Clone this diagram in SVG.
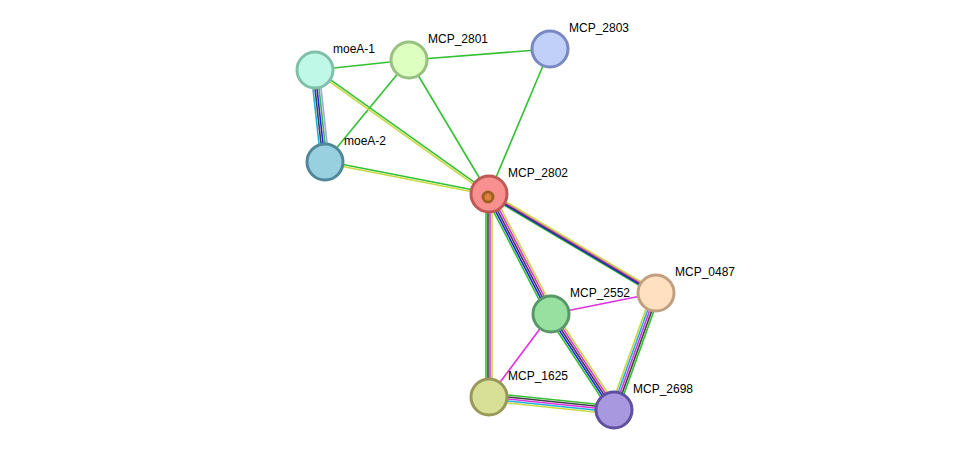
<svg xmlns="http://www.w3.org/2000/svg" width="976" height="456" viewBox="0 0 976 456">
<style>
line{stroke-width:1.6}
.g{stroke:#33c033}.y{stroke:#c8d840}.b{stroke:#2020f0}.k{stroke:#404040}.m{stroke:#e030e0}.c{stroke:#20b0e0}.l{stroke:#a0a0ff}
circle{stroke-width:3}
text{font-family:"Liberation Sans",Arial,sans-serif;font-size:12px;fill:#000}
</style>
<rect width="976" height="456" fill="#fff"/>
<g id="edges">
<line class="g" x1="315" y1="70" x2="409" y2="60"/>
<line class="g" x1="409" y1="60" x2="550" y2="49"/>
<line class="g" x1="409" y1="60" x2="325" y2="162"/>
<line class="g" x1="409" y1="60" x2="489" y2="194"/>
<line class="g" x1="550" y1="49" x2="489" y2="194"/>
<line class="m" x1="551" y1="314" x2="656" y2="293"/>
<line class="m" x1="551" y1="314" x2="489" y2="397"/>
<g transform="translate(-4,0.4)"><line class="c" x1="315" y1="70" x2="325" y2="162"/></g>
<g transform="translate(-2,0.2)"><line class="k" x1="315" y1="70" x2="325" y2="162"/></g>
<line class="b" x1="315" y1="70" x2="325" y2="162"/>
<g transform="translate(2,-0.2)"><line class="g" x1="315" y1="70" x2="325" y2="162"/></g>
<g transform="translate(4,-0.4)"><line class="l" x1="315" y1="70" x2="325" y2="162"/></g>
<g transform="translate(0.58,-0.81)"><line class="g" x1="315" y1="70" x2="489" y2="194"/></g>
<g transform="translate(-0.58,0.81)"><line class="y" x1="315" y1="70" x2="489" y2="194"/></g>
<g transform="translate(0.19,-0.98)"><line class="g" x1="325" y1="162" x2="489" y2="194"/></g>
<g transform="translate(-0.19,0.98)"><line class="y" x1="325" y1="162" x2="489" y2="194"/></g>
<g transform="translate(2.04,3.44)"><line class="g" x1="489" y1="194" x2="656" y2="293"/></g>
<g transform="translate(1.02,1.72)"><line class="b" x1="489" y1="194" x2="656" y2="293"/></g>
<line class="k" x1="489" y1="194" x2="656" y2="293"/>
<g transform="translate(-1.02,-1.72)"><line class="m" x1="489" y1="194" x2="656" y2="293"/></g>
<g transform="translate(-2.04,-3.44)"><line class="y" x1="489" y1="194" x2="656" y2="293"/></g>
<g transform="translate(-3.56,1.84)"><line class="g" x1="489" y1="194" x2="551" y2="314"/></g>
<g transform="translate(-1.78,0.92)"><line class="b" x1="489" y1="194" x2="551" y2="314"/></g>
<line class="k" x1="489" y1="194" x2="551" y2="314"/>
<g transform="translate(1.78,-0.92)"><line class="m" x1="489" y1="194" x2="551" y2="314"/></g>
<g transform="translate(3.56,-1.84)"><line class="y" x1="489" y1="194" x2="551" y2="314"/></g>
<line class="g" x1="486" y1="194" x2="486" y2="397"/>
<line class="k" x1="488" y1="194" x2="488" y2="397"/>
<line class="m" x1="490" y1="194" x2="490" y2="397"/>
<line class="y" x1="492" y1="194" x2="492" y2="397"/>
<g transform="translate(-3.34,2.2)"><line class="g" x1="551" y1="314" x2="614" y2="410"/></g>
<g transform="translate(-1.67,1.1)"><line class="b" x1="551" y1="314" x2="614" y2="410"/></g>
<line class="k" x1="551" y1="314" x2="614" y2="410"/>
<g transform="translate(1.67,-1.1)"><line class="m" x1="551" y1="314" x2="614" y2="410"/></g>
<g transform="translate(3.34,-2.2)"><line class="y" x1="551" y1="314" x2="614" y2="410"/></g>
<g transform="translate(-3.76,-1.36)"><line class="y" x1="656" y1="293" x2="614" y2="410"/></g>
<g transform="translate(-1.88,-0.68)"><line class="c" x1="656" y1="293" x2="614" y2="410"/></g>
<line class="m" x1="656" y1="293" x2="614" y2="410"/>
<g transform="translate(1.88,0.68)"><line class="k" x1="656" y1="293" x2="614" y2="410"/></g>
<g transform="translate(3.76,1.36)"><line class="g" x1="656" y1="293" x2="614" y2="410"/></g>
<g transform="translate(0.4,-3.96)"><line class="g" x1="489" y1="397" x2="614" y2="410"/></g>
<g transform="translate(0.2,-1.98)"><line class="k" x1="489" y1="397" x2="614" y2="410"/></g>
<line class="m" x1="489" y1="397" x2="614" y2="410"/>
<g transform="translate(-0.2,1.98)"><line class="c" x1="489" y1="397" x2="614" y2="410"/></g>
<g transform="translate(-0.4,3.96)"><line class="y" x1="489" y1="397" x2="614" y2="410"/></g>
</g>
<g id="moeA-1"><circle cx="315" cy="70" r="18" fill="#c0f8e8" stroke="#80c0a8"/><text x="333" y="53">moeA-1</text></g>
<g id="MCP_2801"><circle cx="409" cy="60" r="18" fill="#ddffc0" stroke="#98c080"/><text x="428" y="43">MCP_2801</text></g>
<g id="MCP_2803"><circle cx="550" cy="49" r="18" fill="#c0d0f8" stroke="#7888c0"/><text x="569" y="32">MCP_2803</text></g>
<g id="moeA-2"><circle cx="325" cy="162" r="18" fill="#98d0e0" stroke="#50889a"/><text x="344" y="145">moeA-2</text></g>
<g id="MCP_2802"><circle cx="489" cy="194" r="18" fill="#f89090" stroke="#c05858"/><circle cx="488" cy="197" r="5" fill="#e08040" stroke="#a06020" stroke-width="1"/><text x="508" y="177">MCP_2802</text></g>
<g id="MCP_0487"><circle cx="656" cy="293" r="18" fill="#ffe0c0" stroke="#c0a080"/><text x="675" y="276">MCP_0487</text></g>
<g id="MCP_2552"><circle cx="551" cy="314" r="18" fill="#98e0a0" stroke="#589868"/><text x="570" y="297">MCP_2552</text></g>
<g id="MCP_1625"><circle cx="489" cy="397" r="18" fill="#d8e098" stroke="#989858"/><text x="508" y="380">MCP_1625</text></g>
<g id="MCP_2698"><circle cx="614" cy="410" r="18" fill="#a898e0" stroke="#6050a0"/><text x="633" y="393">MCP_2698</text></g>
</svg>
